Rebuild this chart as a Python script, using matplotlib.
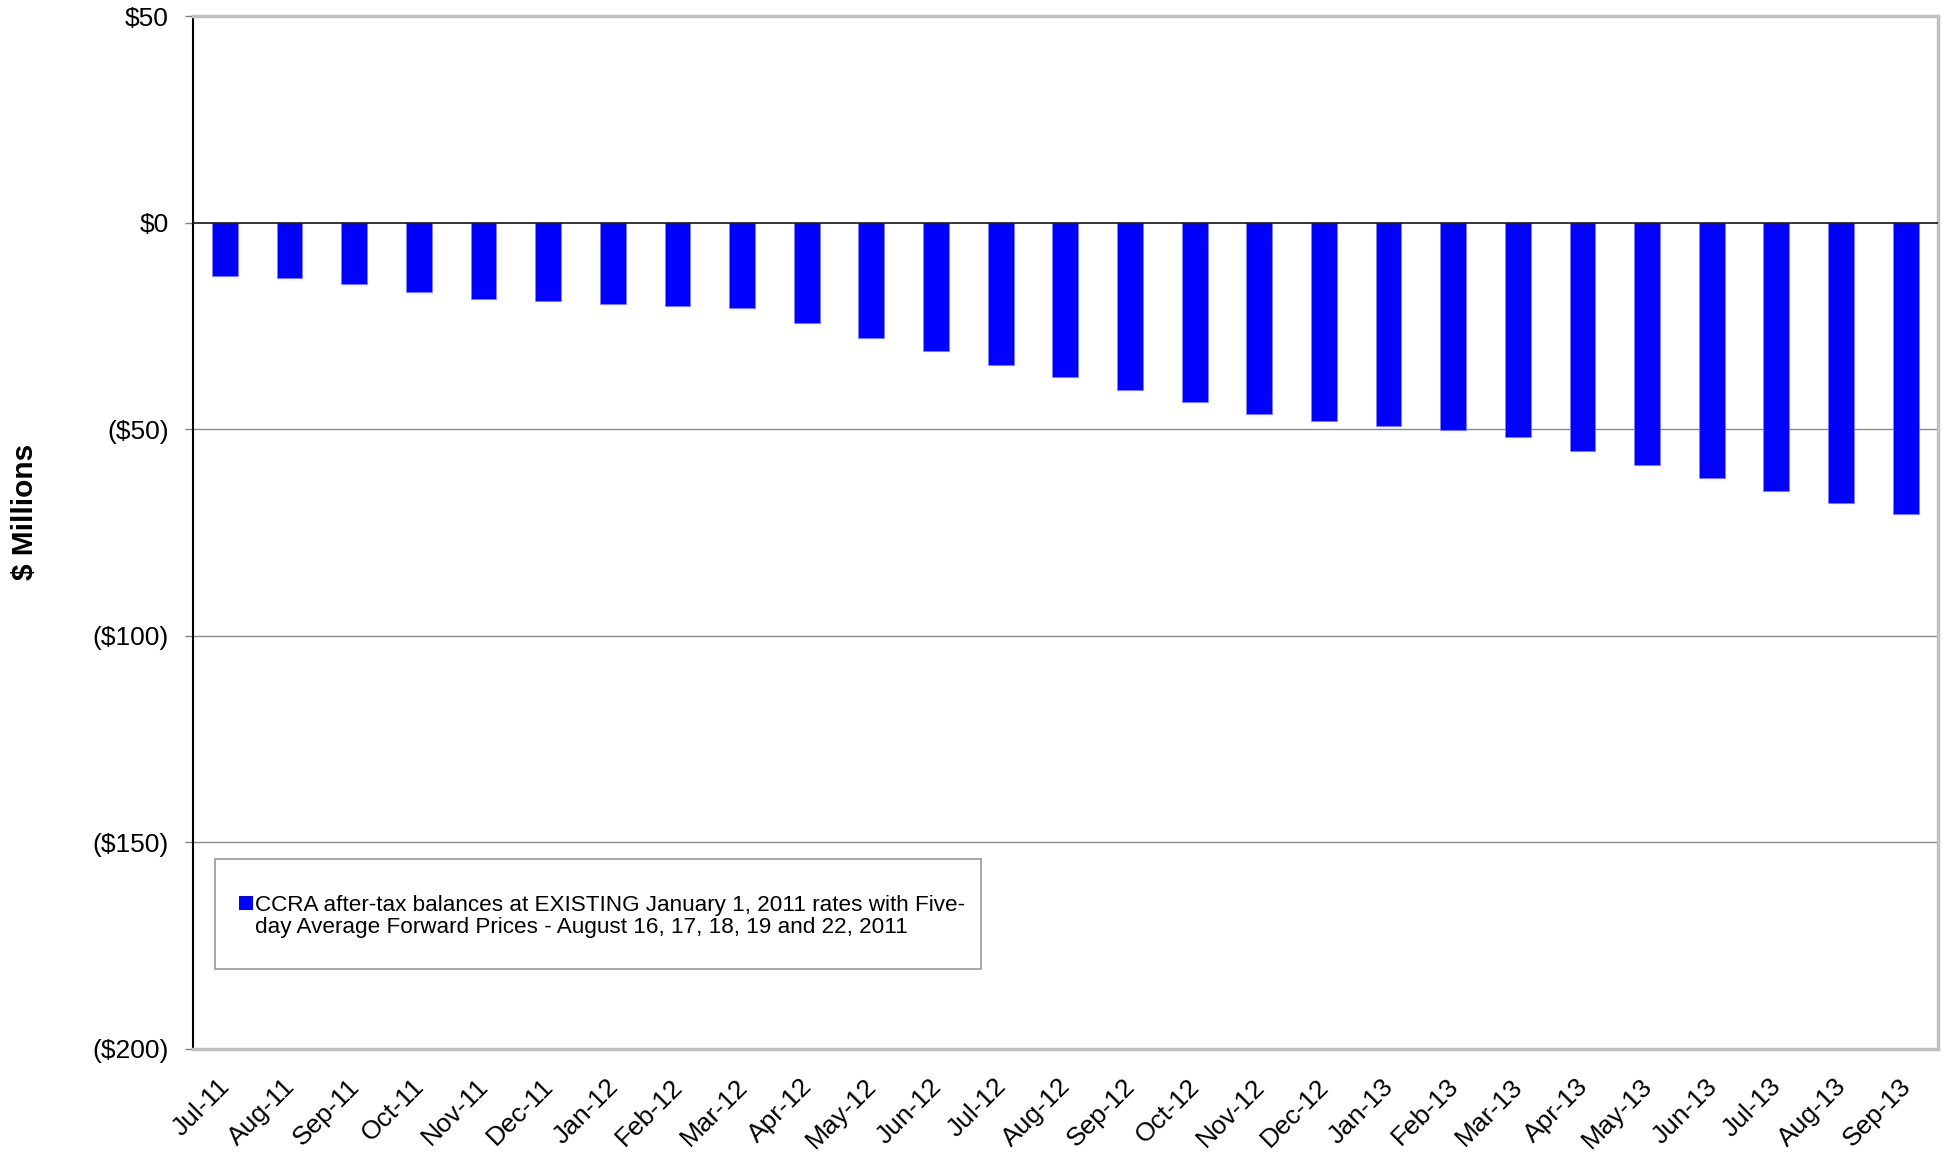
import matplotlib
matplotlib.use("Agg")
import matplotlib.pyplot as plt
from matplotlib.patches import Rectangle
from matplotlib.transforms import ScaledTranslation

# ---- data ----
months = ["Jul-11", "Aug-11", "Sep-11", "Oct-11", "Nov-11", "Dec-11",
          "Jan-12", "Feb-12", "Mar-12", "Apr-12", "May-12", "Jun-12",
          "Jul-12", "Aug-12", "Sep-12", "Oct-12", "Nov-12", "Dec-12",
          "Jan-13", "Feb-13", "Mar-13", "Apr-13", "May-13", "Jun-13",
          "Jul-13", "Aug-13", "Sep-13"]
balances = [-13.0, -13.3, -14.9, -16.8, -18.4, -19.1,
            -19.6, -20.1, -20.8, -24.3, -27.9, -31.2,
            -34.4, -37.5, -40.5, -43.5, -46.3, -48.1,
            -49.2, -50.3, -51.9, -55.3, -58.7, -61.8,
            -64.9, -67.8, -70.6]
ytick_values = [50, 0, -50, -100, -150, -200]
ytick_labels = ["$50", "$0", "($50)", "($100)", "($150)", "($200)"]
series_label = ("CCRA after-tax balances at EXISTING January 1, 2011 rates with Five-\n"
                "day Average Forward Prices - August 16, 17, 18, 19 and 22, 2011")

plt.rcParams["font.family"] = ["Liberation Sans", "DejaVu Sans"]

W_PX, H_PX = 1948, 1155
fig = plt.figure(figsize=(W_PX / 100, H_PX / 100), dpi=100)

# plot area in pixels
L, R, T, B = 192.6, 1938.0, 16.1, 1048.5
ax = fig.add_axes([L / W_PX, 1 - B / H_PX, (R - L) / W_PX, (B - T) / H_PX])

x = list(range(len(months)))
ax.bar(x, balances, width=0.40, color="#0000ff", edgecolor="#7f7fff",
       linewidth=0.5, zorder=3)

ax.set_xlim(-0.5, len(months) - 0.5)
ax.set_ylim(-200, 50)

ax.set_yticks(ytick_values)
ax.set_yticklabels(ytick_labels)
ax.tick_params(axis="y", direction="out", length=6, width=1, color="#808080",
               pad=11, labelsize=19)

ax.set_xticks(x)
ax.set_xticklabels(months, rotation=45, ha="right", va="top")
ax.tick_params(axis="x", length=0, pad=18.5, labelsize=19)
shift = ScaledTranslation(10 / 100, 0, fig.dpi_scale_trans)
for lbl in ax.get_xticklabels():
    lbl.set_transform(lbl.get_transform() + shift)

# horizontal gridlines
for v in [-50, -100, -150]:
    ax.axhline(v, color="#8a8a8a", linewidth=1.0, zorder=1)
ax.axhline(0, color="black", linewidth=1.1, zorder=4)

# plot-area border
ax.spines["left"].set_color("black")
ax.spines["left"].set_linewidth(1.5)
for side in ["top", "right", "bottom"]:
    ax.spines[side].set_color("#c0c0c0")
    ax.spines[side].set_linewidth(2.5)

# y-axis title
fig.text(25 / W_PX, 1 - 511.7 / H_PX, "$ Millions", rotation=90,
         ha="center", va="center", fontsize=21.5, fontweight="bold")

# legend box
def to_axes(px, py):
    return ((px - L) / (R - L), (B - py) / (B - T))

fx0, fy0 = to_axes(215.0, 969.0)
fx1, fy1 = to_axes(981.0, 859.0)
ax.add_patch(Rectangle((fx0, fy0), fx1 - fx0, fy1 - fy0, transform=ax.transAxes,
                       facecolor="white", edgecolor="#a0a0a0", linewidth=1.3,
                       zorder=6, clip_on=False))
mx0, my0 = to_axes(239.0, 909.5)
mx1, my1 = to_axes(253.0, 896.0)
ax.add_patch(Rectangle((mx0, my0), mx1 - mx0, my1 - my0, transform=ax.transAxes,
                       facecolor="#0000ff", edgecolor="none", zorder=7,
                       clip_on=False))
# anchor on the baseline of the last line
tx, ty = to_axes(255.0, 933.5)
ax.text(tx, ty, series_label, transform=ax.transAxes, ha="left", va="baseline",
        fontsize=16.2, linespacing=1.1, zorder=8, multialignment="left")

fig.savefig("out.png", dpi=100)
